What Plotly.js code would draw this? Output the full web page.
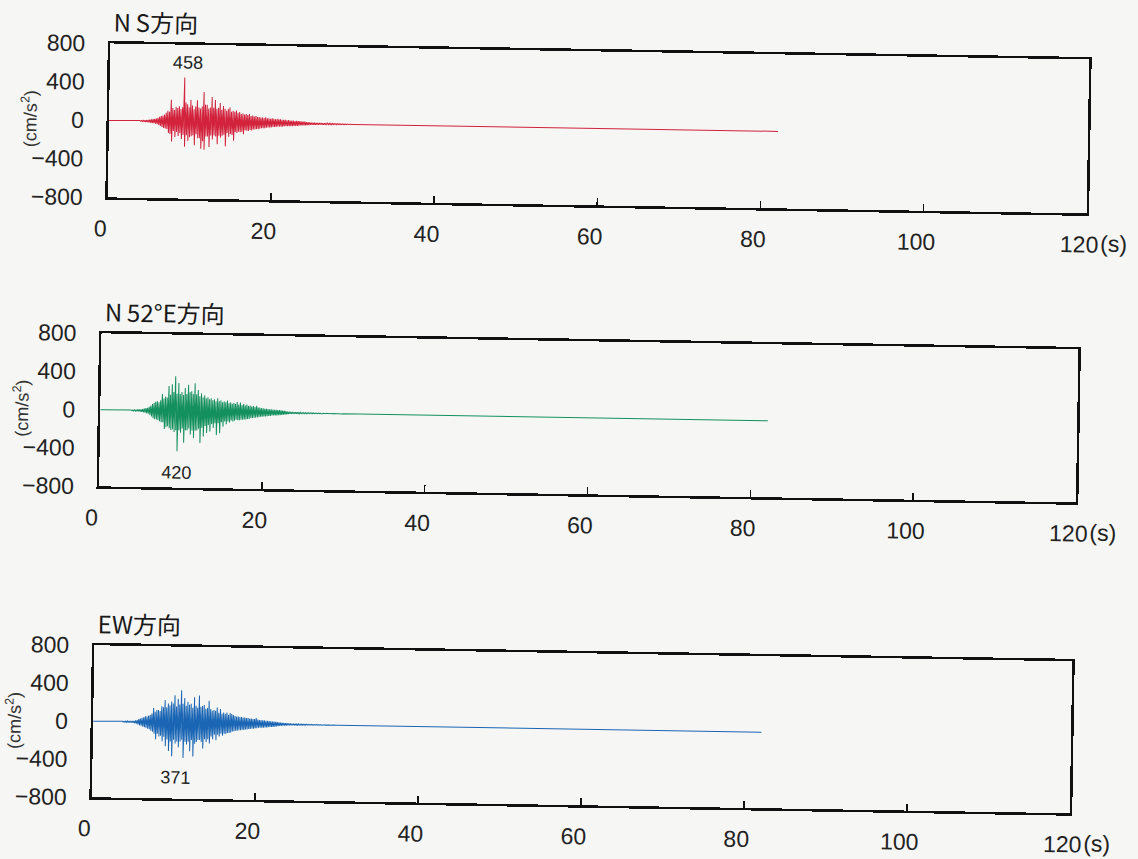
<!DOCTYPE html>
<html>
<head>
<meta charset="utf-8">
<script src="https://cdn.plot.ly/plotly-3.0.1.min.js"></script>
<style>
  html, body { margin: 0; padding: 0; background: #f6f6f4; overflow: hidden; }
  #chart { width: 1138px; height: 859px; transform: rotate(0.94deg); transform-origin: 50% 50%; }
</style>
</head>
<body>
<div id="chart"></div>
<script>
// ---- data (accelerations in cm/s², sampled every 0.1 s from t = 3.0 s; zero before) ----
const T_START = 3.0;         // s, first listed sample
const T_STEP = 0.1;          // s between samples
const RECORD_END = 82;       // s, end of record
const panelTitles = ['N\u2009S方向', 'N\u200952°E方向', 'EW方向'];
const peakLabels = ['458', '420', '371'];
const peakLabelPos = [[9.5, 610], [9.5, -640], [10.2, -575]];
const xTicks = [0, 20, 40, 60, 80, 100, 120];
const yTicks = [-800, -400, 0, 400, 800];

const accNS = [
  0,0,0,0,0,0,3,-3,4,-4,
  5,-5,6,-8,8,-10,10,-12,12,-14,
  15,-15,18,-20,20,-22,25,-25,28,-30,
  35,-40,45,-50,55,-60,60,-70,70,-75,
  90,-80,110,-120,100,-130,225,-208,140,-100,
  120,-160,150,-110,140,-150,160,-120,130,-180,
  150,-140,458,-260,200,-140,180,-200,150,-160,
  225,-150,170,-140,130,-243,160,-130,225,-170,
  150,-170,140,-278,160,-200,312,-288,180,-150,
  180,-150,140,-260,150,-140,260,-180,150,-140,
  230,-150,140,-230,150,-140,200,-160,130,-140,
  170,-130,140,-250,120,-110,140,-150,155,-120,
  110,-130,120,-190,110,-100,125,-110,100,-95,
  110,-100,90,-95,95,-120,85,-80,90,-85,
  80,-85,90,-75,70,-80,75,-70,65,-70,
  70,-65,60,-65,60,-60,55,-55,55,-55,
  50,-55,60,-50,50,-45,50,-45,45,-45,
  50,-40,45,-40,40,-40,45,-35,40,-35,
  40,-35,35,-35,35,-30,35,-30,30,-30,
  35,-30,30,-28,28,-28,30,-25,25,-25,
  28,-25,25,-22,25,-20,20,-20,22,-18,
  20,-18,15,-15,15,-14,14,-12,12,-12,
  12,-10,10,-10,10,-10,10,-9,9,-8,
  10,-8,8,-8,8,-7,7,-7,7,-6,
  6,-6,6,-6,5,-5,5,-5,5,-5,
  5,-4,4,-4,4,-4,3,-3,3,-3,
  3,-3,2,-2,2,-2,2,-2,1,-1,
  0
];

const accN52E = [
  0,0,0,0,0,0,3,-3,4,-4,
  5,-5,6,-6,8,-8,10,-10,10,-12,
  12,-14,15,-18,20,-22,25,-28,30,-32,
  40,-45,50,-60,70,-80,80,-90,95,-90,
  100,-100,90,-110,110,-120,175,-120,130,-190,
  150,-170,140,-160,260,-180,170,-200,280,-190,
  200,-220,365,-200,180,-420,295,-200,180,-225,
  200,-180,170,-330,243,-200,180,-200,278,-180,
  200,-243,210,-200,180,-278,295,-200,180,-200,
  225,-180,160,-330,190,-170,150,-260,170,-150,
  140,-225,150,-140,130,-208,140,-130,120,-170,
  130,-120,110,-243,140,-120,110,-225,120,-110,
  100,-156,110,-100,100,-130,120,-100,90,-110,
  100,-90,85,-100,95,-90,85,-80,105,-85,
  80,-85,100,-80,75,-80,85,-75,70,-75,
  80,-70,65,-70,70,-60,60,-60,65,-55,
  55,-55,70,-50,50,-50,50,-45,45,-45,
  45,-40,40,-40,40,-38,38,-35,35,-35,
  35,-30,32,-30,30,-28,30,-28,28,-25,
  28,-25,25,-22,22,-20,20,-18,18,-15,
  14,-12,12,-10,10,-10,10,-9,9,-8,
  9,-8,8,-7,7,-7,7,-6,6,-6,
  6,-6,5,-5,5,-5,5,-4,4,-4,
  4,-4,4,-3,3,-3,3,-3,3,-3,
  3,-3,2,-2,2,-2,2,-2,2,-2,
  2,-2,2,-1,1,-1,1,-1,1,-1,
  1,-1,1,-1,1,-1,1,-1,0,0,
  0
];

const accEW = [
  0,0,3,-3,3,-3,4,-4,5,-5,
  6,-6,8,-6,8,-8,10,-8,10,-10,
  10,-12,15,-18,20,-25,30,-35,35,-40,
  45,-50,50,-55,60,-60,60,-70,70,-75,
  75,-90,90,-100,150,-120,110,-180,130,-120,
  130,-150,120,-140,170,-200,160,-150,236,-250,
  160,-180,200,-300,180,-200,220,-354,200,-180,
  288,-220,170,-200,250,-260,190,-200,340,-180,
  200,-371,260,-200,180,-230,220,-200,190,-300,
  200,-180,160,-354,270,-220,180,-200,160,-180,
  288,-180,170,-200,180,-267,190,-170,150,-200,
  160,-170,236,-215,150,-140,130,-170,140,-120,
  130,-180,167,-120,110,-140,150,-110,100,-130,
  115,-110,100,-110,115,-100,90,-100,110,-95,
  100,-85,90,-80,80,-75,75,-75,75,-70,
  70,-70,70,-65,65,-65,65,-60,60,-60,
  60,-55,55,-55,55,-50,50,-50,50,-45,
  62,-45,45,-40,40,-40,40,-38,38,-38,
  38,-35,35,-35,35,-32,32,-30,30,-28,
  28,-28,28,-25,25,-22,22,-20,20,-18,
  18,-15,15,-14,14,-12,12,-12,12,-10,
  10,-10,10,-9,9,-8,8,-8,8,-7,
  7,-7,7,-6,6,-6,6,-5,5,-5,
  5,-5,5,-4,4,-4,4,-4,4,-3,
  3,-3,3,-3,3,-3,3,-2,2,-2,
  2,-2,2,-2,2,-1,1,-1,1,-1,
  1,-1,1,-1,1,-1,1,-1,1,0,
  0
];

const series = [accNS, accN52E, accEW];
const colors = ['#d2223c', '#14905e', '#1a66b4'];

// ---- panel geometry (paper fractions) ----
const xDomains = [[0.0914, 0.9517], [0.0879, 0.9464], [0.0861, 0.9455]];
const yDomains = [[0.7614, 0.9406], [0.4249, 0.6030], [0.0629, 0.2398]];

function timeAxis(vals) {
  const t = [0].concat(vals.map((_, i) => Math.round((T_START + i * T_STEP) * 10) / 10));
  t.push(RECORD_END);
  return t;
}

const traces = series.map((vals, k) => ({
  type: 'scatter',
  mode: 'lines',
  x: timeAxis(vals),
  y: [0].concat(vals, [0]),
  xaxis: k === 0 ? 'x' : 'x' + (k + 1),
  yaxis: k === 0 ? 'y' : 'y' + (k + 1),
  line: { color: colors[k], width: 1 },
  hoverinfo: 'skip',
  showlegend: false
}));

const tickFont = { family: 'Liberation Sans, Arial, sans-serif', size: 23, color: '#222' };
const layout = {
  width: 1138, height: 859,
  margin: { l: 0, r: 0, t: 0, b: 0 },
  paper_bgcolor: '#f6f6f4',
  plot_bgcolor: '#f6f6f4',
  showlegend: false,
  annotations: []
};

for (let k = 0; k < 3; k++) {
  const xs = k === 0 ? 'xaxis' : 'xaxis' + (k + 1);
  const ys = k === 0 ? 'yaxis' : 'yaxis' + (k + 1);
  const yref = k === 0 ? 'y' : 'y' + (k + 1);
  const xref = k === 0 ? 'x' : 'x' + (k + 1);
  layout[xs] = {
    domain: xDomains[k], anchor: yref, range: [0, 120],
    tickmode: 'array', tickvals: xTicks, ticktext: xTicks.map(String),
    ticks: 'inside', ticklen: 7, tickwidth: 1.5, tickcolor: '#111',
    ticklabelshift: -7, ticklabelstandoff: 9,
    showline: true, mirror: true, linewidth: 2.5, linecolor: '#111',
    showgrid: false, zeroline: false, fixedrange: true,
    tickfont: tickFont
  };
  layout[ys] = {
    domain: yDomains[k], anchor: xref, range: [-800, 800],
    tickmode: 'array', tickvals: yTicks,
    ticks: '', ticklabelstandoff: 18,
    showline: true, mirror: true, linewidth: 2.5, linecolor: '#111',
    showgrid: false, zeroline: false, fixedrange: true,
    tickfont: tickFont
  };
  // panel title
  layout.annotations.push({
    xref: 'paper', yref: 'paper',
    x: xDomains[k][0] + 0.001, y: yDomains[k][1] + 23 / 859,
    xanchor: 'left', yanchor: 'middle', showarrow: false,
    text: panelTitles[k],
    font: { family: 'Noto Sans CJK JP, sans-serif', size: 24, color: '#1a1a1a' }
  });
  // unit label
  layout.annotations.push({
    xref: 'paper', yref: 'paper',
    x: xDomains[k][0], y: (yDomains[k][0] + yDomains[k][1]) / 2,
    xshift: -79, xanchor: 'center', yanchor: 'middle', showarrow: false,
    textangle: -90,
    text: '(cm/s<sup>2</sup>)',
    font: { family: 'Liberation Sans, Arial, sans-serif', size: 18, color: '#333' }
  });
  // (s) unit after 120
  layout.annotations.push({
    xref: xref, yref: 'paper',
    x: 120, y: yDomains[k][0], xshift: 12, yshift: -30,
    xanchor: 'left', yanchor: 'middle', showarrow: false,
    text: '(s)',
    font: tickFont
  });
  // peak label
  layout.annotations.push({
    xref: xref, yref: yref,
    x: peakLabelPos[k][0], y: peakLabelPos[k][1],
    xanchor: 'center', yanchor: 'middle', showarrow: false,
    text: peakLabels[k],
    font: { family: 'Liberation Sans, Arial, sans-serif', size: 18, color: '#222' }
  });
}

Plotly.newPlot('chart', traces, layout, { staticPlot: true, displayModeBar: false });
</script>
</body>
</html>
